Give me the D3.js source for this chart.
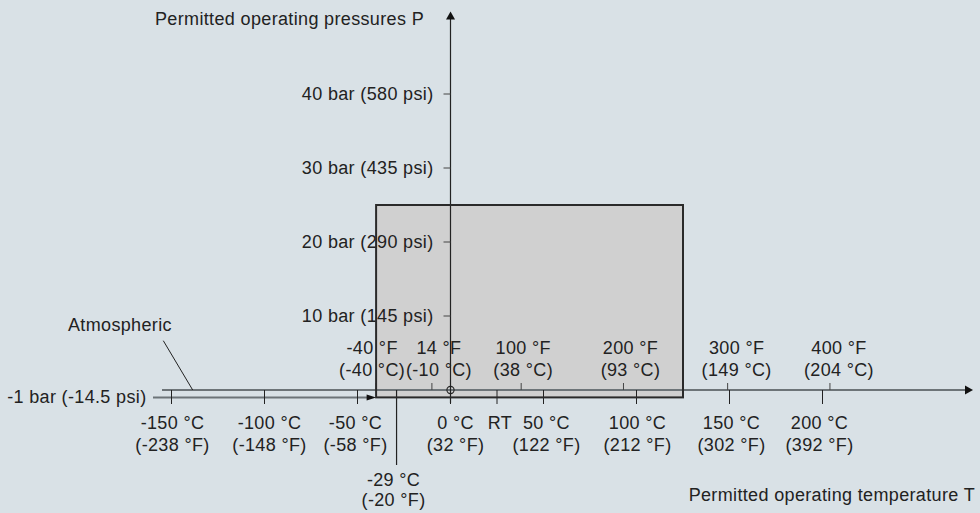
<!DOCTYPE html>
<html>
<head>
<meta charset="utf-8">
<script src="https://cdn.jsdelivr.net/npm/d3@7/dist/d3.min.js"></script>
<style>
  html, body { margin: 0; padding: 0; background: #d9e1e6; }
  svg text { font-family: "Liberation Sans", Arial, sans-serif; font-size: 18px; fill: #222; letter-spacing: 0.35px; }
</style>
</head>
<body>
<div id="chart"></div>
<script>
"use strict";
// temperature marks (°C) below the axis
var cTicks = [-150, -100, -50, 0, 25, 50, 100, 150, 200];
var cLabels = [
  ["-150 °C", "(-238 °F)"], ["-100 °C", "(-148 °F)"], ["-50 °C", "(-58 °F)"],
  ["0 °C", "(32 °F)"], ["RT"], ["50 °C", "(122 °F)"], ["100 °C", "(212 °F)"],
  ["150 °C", "(302 °F)"], ["200 °C", "(392 °F)"]
];
// °F marks above the axis, placed at their °C value
var fTicks = [-40, -10, 38, 93, 149, 204];
var fLabels = [
  ["-40 °F", "(-40 °C)"], ["14 °F", "(-10 °C)"], ["100 °F", "(38 °C)"],
  ["200 °F", "(93 °C)"], ["300 °F", "(149 °C)"], ["400 °F", "(204 °C)"]
];
var pTicks = [10, 20, 30, 40];
var pLabels = ["10 bar (145 psi)", "20 bar (290 psi)", "30 bar (435 psi)", "40 bar (580 psi)"];
var tempRange = [-40, 125];     // permitted temperature, °C
var pressRange = [-1, 25];      // permitted pressure, bar
var minTemp = -29;
var minTempLabel = ["-29 °C", "(-20 °F)"];
var vacuumLabel = "-1 bar (-14.5 psi)";

var W = 980, H = 513;
var x = d3.scaleLinear().domain([0, 100]).range([450.5, 636.5]);
var y = d3.scaleLinear().domain([0, 40]).range([390, 94]);

// small label nudges as in the drawing
var cDx = [1, 5, -2, 5, 3, 3, 1, 2, -3];
var fDx = [-4, 7, 2, 7, 9, 9];

var svg = d3.select("#chart").append("svg")
  .attr("width", W).attr("height", H);

var dark = "#222", grey = "#6d7478";

// permitted range box (fill first)
var box = svg.append("rect")
  .attr("x", x(tempRange[0]))
  .attr("y", y(pressRange[1]))
  .attr("width", x(tempRange[1]) - x(tempRange[0]))
  .attr("height", y(pressRange[0]) - y(pressRange[1]))
  .attr("fill", "#d0d0d0");

// temperature axis (atmospheric)
svg.append("line")
  .attr("x1", 162).attr("x2", 966)
  .attr("y1", y(0)).attr("y2", y(0))
  .attr("stroke", grey).attr("stroke-width", 2.2);
svg.append("path")
  .attr("d", "M973," + y(0) + "L965," + (y(0) - 4.5) + "L965," + (y(0) + 4.5) + "Z")
  .attr("fill", "#111");

// -1 bar line with arrow to box
svg.append("line")
  .attr("x1", 153).attr("x2", x(tempRange[0]) - 8)
  .attr("y1", y(-1)).attr("y2", y(-1))
  .attr("stroke", grey).attr("stroke-width", 2);
svg.append("path")
  .attr("d", "M" + x(tempRange[0]) + "," + y(-1) + "L" + (x(tempRange[0]) - 9.5) + "," + (y(-1) - 3) +
    "L" + (x(tempRange[0]) - 9.5) + "," + (y(-1) + 3) + "Z")
  .attr("fill", "#111");

// °C ticks below
svg.selectAll("line.ctick").data(cTicks).enter().append("line")
  .attr("class", "ctick")
  .attr("x1", function(d) { return x(d); }).attr("x2", function(d) { return x(d); })
  .attr("y1", y(0)).attr("y2", y(0) + 14)
  .attr("stroke", dark).attr("stroke-width", 1);

// °F ticks above
svg.selectAll("line.ftick").data(fTicks).enter().append("line")
  .attr("class", "ftick")
  .attr("x1", function(d) { return x(d); }).attr("x2", function(d) { return x(d); })
  .attr("y1", y(0) - 7).attr("y2", y(0))
  .attr("stroke", "#444").attr("stroke-width", 1);

// min temperature line
svg.append("line")
  .attr("x1", x(minTemp)).attr("x2", x(minTemp))
  .attr("y1", y(0)).attr("y2", 465)
  .attr("stroke", dark).attr("stroke-width", 1.2);

// pressure axis
svg.append("line")
  .attr("x1", x(0)).attr("x2", x(0))
  .attr("y1", 19).attr("y2", 403)
  .attr("stroke", dark).attr("stroke-width", 1.2);
svg.append("path")
  .attr("d", "M" + x(0) + ",11.5L" + (x(0) - 4.5) + ",19.5L" + (x(0) + 4.5) + ",19.5Z")
  .attr("fill", "#111");

svg.selectAll("line.ptick").data(pTicks).enter().append("line")
  .attr("class", "ptick")
  .attr("x1", x(0) - 7).attr("x2", x(0))
  .attr("y1", function(d) { return y(d); }).attr("y2", function(d) { return y(d); })
  .attr("stroke", "#444").attr("stroke-width", 1);

// origin circle
svg.append("circle")
  .attr("cx", x(0)).attr("cy", y(0)).attr("r", 3.6)
  .attr("fill", "none").attr("stroke", dark).attr("stroke-width", 1.1);

// atmospheric leader
svg.append("line")
  .attr("x1", 163.3).attr("y1", 340.7)
  .attr("x2", 192.7).attr("y2", y(0))
  .attr("stroke", dark).attr("stroke-width", 1);

// ---- texts ----
svg.selectAll("text.plab").data(pTicks).enter().append("text")
  .attr("class", "plab")
  .attr("x", 433.5)
  .attr("y", function(d) { return y(d) + 6; })
  .attr("text-anchor", "end")
  .text(function(d, i) { return pLabels[i]; });

function twoLine(sel, t, lines, dx, y1, y2) {
  var g = sel.append("g");
  lines.forEach(function(s, j) {
    g.append("text")
      .attr("x", x(t) + dx)
      .attr("y", j === 0 ? y1 : y2)
      .attr("text-anchor", "middle")
      .text(s);
  });
}
cTicks.forEach(function(t, i) { twoLine(svg, t, cLabels[i], cDx[i], 429, 450.5); });
fTicks.forEach(function(t, i) { twoLine(svg, t, fLabels[i], fDx[i], 353.5, 375.5); });
twoLine(svg, minTemp, minTempLabel, -3, 486, 506);

svg.append("text")
  .attr("x", 146.5).attr("y", y(-1) + 5.5)
  .attr("text-anchor", "end")
  .text(vacuumLabel);

svg.append("text")
  .attr("x", 68).attr("y", 330.5)
  .text("Atmospheric");

svg.append("text")
  .attr("x", 424).attr("y", 25)
  .attr("text-anchor", "end")
  .text("Permitted operating pressures P");

svg.append("text")
  .attr("x", 975).attr("y", 500.5)
  .attr("text-anchor", "end")
  .text("Permitted operating temperature T");

// box outline on top
svg.append("rect")
  .attr("x", box.attr("x")).attr("y", box.attr("y"))
  .attr("width", box.attr("width")).attr("height", box.attr("height"))
  .attr("fill", "none").attr("stroke", "#2a2a2a").attr("stroke-width", 2);
</script>
</body>
</html>
